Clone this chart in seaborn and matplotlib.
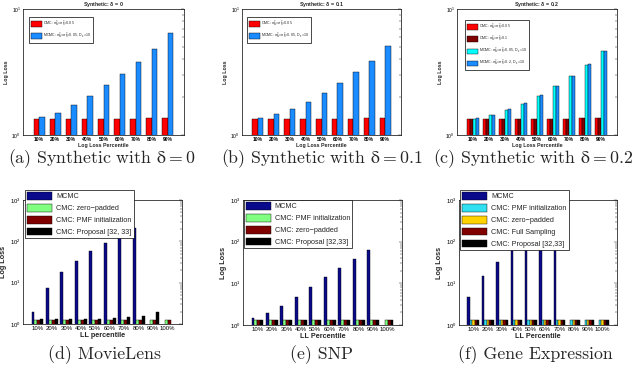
import numpy as np
import pandas as pd
import matplotlib
matplotlib.use("Agg")
import matplotlib.pyplot as plt
import seaborn as sns
from matplotlib.ticker import NullFormatter

sns.set_style("white")
plt.rcParams["font.family"] = ["Liberation Sans", "DejaVu Sans"]
plt.rcParams["mathtext.default"] = "regular"

# ---------------- data ----------------
pct_top = ["10%", "20%", "30%", "40%", "50%", "60%", "70%", "80%", "90%"]
pct_bot = ["10%", "20%", "30%", "40%", "50%", "60%", "70%", "80%", "90%", "100%"]

a_cmc = [1.34, 1.34, 1.34, 1.34, 1.34, 1.34, 1.34, 1.36, 1.36]
a_mcmc = [1.38, 1.50, 1.72, 2.05, 2.48, 3.05, 3.82, 4.84, 6.41]

b_cmc = [1.34, 1.34, 1.34, 1.34, 1.34, 1.34, 1.34, 1.36, 1.36]
b_mcmc = [1.36, 1.46, 1.62, 1.84, 2.14, 2.57, 3.14, 3.89, 5.08]

c_cmc1 = [1.34, 1.34, 1.34, 1.34, 1.34, 1.34, 1.34, 1.36, 1.36]
c_cmc2 = [1.34, 1.34, 1.34, 1.34, 1.34, 1.34, 1.34, 1.36, 1.36]
c_mcmc1 = [1.35, 1.43, 1.58, 1.76, 2.04, 2.43, 2.92, 3.62, 4.64]
c_mcmc2 = [1.36, 1.44, 1.60, 1.78, 2.06, 2.45, 2.94, 3.64, 4.67]

nan = np.nan
d_mcmc = [2.0, 7.4, 18, 34, 57, 91, 140, 210, nan, nan]
d_zero = [1.27] * 10
d_pmf = [1.27] * 10
d_prop = [1.3, 1.3, 1.3, 1.3, 1.35, 1.4, 1.48, 1.6, 2.0, nan]

e_mcmc = [1.45, 1.9, 2.86, 4.7, 8.2, 14.2, 23.8, 37.7, 62, nan]
e_pmf = [1.3, 1.3, 1.3, 1.3, 1.3, 1.3, 1.3, 1.32, 1.35, 1.35]
e_zero = [1.3, 1.3, 1.3, 1.3, 1.3, 1.3, 1.3, 1.32, 1.35, 1.35]
e_prop = [1.3, 1.3, 1.3, 1.3, 1.3, 1.3, 1.3, 1.32, 1.35, 1.35]

f_mcmc = [4.6, 15, 32, 150, 200, 250, 300, nan, nan, nan]
f_pmf = [1.3, 1.3, 1.3, 1.3, 1.3, 1.3, 1.3, 1.32, 1.32, 1.32]
f_zero = [1.3, 1.3, 1.3, 1.3, 1.3, 1.3, 1.3, 1.32, 1.32, 1.32]
f_full = [1.3, 1.3, 1.3, 1.3, 1.3, 1.3, 1.3, 1.32, 1.32, 1.32]
f_prop = [1.3, 1.3, 1.3, 1.3, 1.3, 1.3, 1.3, 1.32, 1.32, 1.32]

lab_cmc005 = r"CMC: $\sigma^2_w\!=\!\sigma^2_h\!=\!0.05$"
lab_cmc01 = r"CMC: $\sigma^2_w\!=\!\sigma^2_h\!=\!0.1$"
lab_mcmc005 = r"MCMC: $\sigma^2_w\!=\!\sigma^2_h\!=\!0.05,\ D_x\!=\!10$"
lab_mcmc02 = r"MCMC: $\sigma^2_w\!=\!\sigma^2_h\!=\!0.2,\ D_x\!=\!10$"

panels = [
    dict(pos=(23, 184, 9, 135), cats=pct_top, series=[(lab_cmc005, a_cmc, "#ff0000"), (lab_mcmc005, a_mcmc, "#1a8cff")],
         title=r"Synthetic: $\delta$ = 0", xlabel="Log Loss Percentile", ylim=(1, 10), leg=(0.037, 0.937), top=True,
         cap=r"(a) Synthetic with $\delta = 0$", cx=102),
    dict(pos=(242, 401, 9, 135), cats=pct_top, series=[(lab_cmc005, b_cmc, "#ff0000"), (lab_mcmc005, b_mcmc, "#1a8cff")],
         title=r"Synthetic: $\delta$ = 0.1", xlabel="Log Loss Percentile", ylim=(1, 10), leg=(0.031, 0.937), top=True,
         cap=r"(b) Synthetic with $\delta = 0.1$", cx=322),
    dict(pos=(457, 617, 9, 135), cats=pct_top,
         series=[(lab_cmc005, c_cmc1, "#ff0000"), (lab_cmc01, c_cmc2, "#800000"),
                 (lab_mcmc005, c_mcmc1, "#00ffff"), (lab_mcmc02, c_mcmc2, "#1a8cff")],
         title=r"Synthetic: $\delta$ = 0.2", xlabel="Log Loss Percentile", ylim=(1, 10), leg=(0.05, 0.913), top=True,
         cap=r"(c) Synthetic with $\delta = 0.2$", cx=533),
    dict(pos=(23, 182, 200, 324), cats=pct_bot,
         series=[("MCMC", d_mcmc, "#0a0a8c"), ("CMC: zero\u2212padded", d_zero, "#80ff80"),
                 ("CMC: PMF initialization", d_pmf, "#800000"), ("CMC: Proposal [32, 33]", d_prop, "#000000")],
         title=None, xlabel="LL percentile", ylim=(1, 1000), leg=(0.013, 1.08), top=False,
         cap="(d) MovieLens", cx=105),
    dict(pos=(243, 402, 200, 325), cats=pct_bot,
         series=[("MCMC", e_mcmc, "#0a0a8c"), ("CMC: PMF initialization", e_pmf, "#80ff80"),
                 ("CMC: zero\u2212padded", e_zero, "#800000"), ("CMC: Proposal [32,33]", e_prop, "#000000")],
         title=None, xlabel="LL Percentile", ylim=(1, 1000), leg=(0.005, 1.0), top=False,
         cap="(e) SNP", cx=322),
    dict(pos=(459, 617, 200, 325), cats=pct_bot,
         series=[("MCMC", f_mcmc, "#0a0a8c"), ("CMC: PMF initialization", f_pmf, "#30e0f0"),
                 ("CMC: zero\u2212padded", f_zero, "#ffd200"), ("CMC: Full Sampling", f_full, "#800000"),
                 ("CMC: Proposal [32,33]", f_prop, "#000000")],
         title=None, xlabel="LL Percentile", ylim=(1, 1000), leg=(0.006, 1.08), top=False,
         cap="(f) Gene Expression", cx=535),
]

W, H = 640, 369
fig = plt.figure(figsize=(W / 100, H / 100), dpi=100)

for p in panels:
    x0, x1, y0, y1 = p["pos"]
    ax = fig.add_axes([x0 / W, 1 - y1 / H, (x1 - x0) / W, (y1 - y0) / H])
    rows = []
    for lab, vals, col in p["series"]:
        for c, v in zip(p["cats"], vals):
            rows.append(dict(pct=c, val=v, method=lab))
    df = pd.DataFrame(rows).dropna()
    order = [s[0] for s in p["series"]]
    pal = {s[0]: s[2] for s in p["series"]}
    n = len(order)
    width = 0.68 if n == 2 else (0.8 if n == 4 and p["top"] else 0.82)
    sns.barplot(data=df, x="pct", y="val", hue="method", hue_order=order, order=p["cats"],
                palette=pal, width=width, errorbar=None, edgecolor="black", linewidth=0.3,
                saturation=1, ax=ax)
    ax.set_yscale("log")
    ax.set_ylim(*p["ylim"])
    ax.set_xlim(-1, len(p["cats"]))
    ax.yaxis.set_minor_formatter(NullFormatter())
    for s in ax.spines.values():
        s.set_linewidth(0.5)
        s.set_color("black")
    top = p["top"]
    fs_tick = 3.6 if top else 4.3
    ax.tick_params(axis="both", which="both", direction="in", top=True, right=True,
                   width=0.3, labelsize=fs_tick, pad=1.5, colors="black")
    ax.tick_params(axis="both", which="major", length=2.2)
    ax.tick_params(axis="y", which="minor", length=1.2)
    ax.tick_params(axis="x", which="major", length=0)
    if top:
        for t in ax.get_xticklabels():
            t.set_fontweight("bold")
    lab_fs = 3.8 if top else 5.2
    ax.set_xlabel(p["xlabel"], fontsize=lab_fs, fontweight="bold", labelpad=0.5)
    ax.set_ylabel("Log Loss", fontsize=lab_fs, fontweight="bold", labelpad=1.5 if top else 2)
    if p["title"]:
        ax.set_title(p["title"], fontsize=3.8, fontweight="bold", pad=2)
    # legend
    old = ax.get_legend()
    handles = old.legend_handles
    labels = [t.get_text() for t in old.texts]
    old.remove()
    for h in handles:
        h.set_edgecolor("black")
        h.set_linewidth(0.3)
    if top:
        leg = ax.legend(handles, labels, loc="upper left", bbox_to_anchor=p["leg"], borderaxespad=0,
                        fontsize=2.6, handlelength=3.2, handleheight=2.0, labelspacing=0.45,
                        handletextpad=0.3, borderpad=0.5, fancybox=False, framealpha=1,
                        edgecolor="black")
    else:
        leg = ax.legend(handles, labels, loc="upper left", bbox_to_anchor=p["leg"], borderaxespad=0,
                        fontsize=5.2, handlelength=3.4, handleheight=1.25, labelspacing=0.5,
                        handletextpad=0.6, borderpad=0.3, fancybox=False, framealpha=1,
                        edgecolor="black")
    leg.get_frame().set_linewidth(0.5)
    leg.set_zorder(10)
    # caption
    cy = 159 if top else 355
    fig.text(p["cx"] / W, 1 - cy / H, p["cap"], family="cmr10", math_fontfamily="cm",
             fontsize=12.8, ha="center", va="center")

fig.savefig("out.png", dpi=100)
